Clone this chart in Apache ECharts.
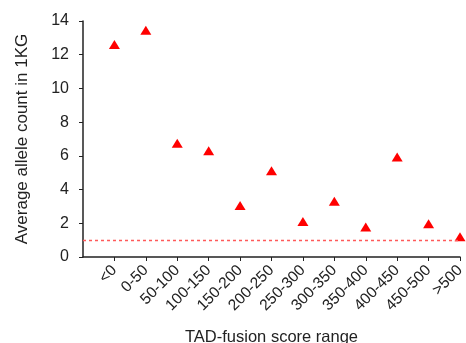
<!DOCTYPE html>
<html><head><meta charset="utf-8">
<script src="https://cdn.jsdelivr.net/npm/echarts@6/dist/echarts.min.js"></script>
<style>html,body{margin:0;padding:0;background:#fff}#c{width:466px;height:343px}</style>
</head><body><div id="c"></div>
<script>
const categories = ['<0','0-50','50-100','100-150','150-200','200-250','250-300','300-350','350-400','400-450','450-500','>500'];
const values = [12.6, 13.45, 6.75, 6.3, 3.05, 5.12, 2.1, 3.3, 1.78, 5.93, 1.97, 1.2];
const yTicks = [0, 2, 4, 6, 8, 10, 12, 14];
const refLine = 1;

const cats = [''].concat(categories);
const chart = echarts.init(document.getElementById('c'), null, {renderer:'canvas'});
const font = 'Liberation Sans, Arial, sans-serif';
chart.setOption({
  animation:false,
  grid:{left:83, top:21, right:6, bottom:86, containLabel:false, outerBoundsMode:'none'},
  xAxis:{
    type:'category', data:cats, boundaryGap:false,
    name:'TAD-fusion score range', nameLocation:'middle', nameGap:72,
    nameTextStyle:{fontFamily:font, fontSize:16.5, color:'#222'},
    axisLine:{lineStyle:{color:'#222', width:1.5}},
    axisTick:{length:4, lineStyle:{color:'#222'}, interval:function(i){return i>0;}},
    axisLabel:{rotate:45, fontFamily:font, fontSize:15.5, color:'#222', margin:11, interval:0},
    splitLine:{show:false}
  },
  yAxis:{
    type:'value', min:yTicks[0], max:yTicks[yTicks.length-1], interval:2,
    name:'Average allele count in 1KG', nameLocation:'middle', nameGap:52,
    nameTextStyle:{fontFamily:font, fontSize:17, color:'#222'},
    axisLine:{show:true, lineStyle:{color:'#222', width:1.5}},
    axisTick:{show:true, length:4, lineStyle:{color:'#222'}},
    axisLabel:{fontFamily:font, fontSize:16, color:'#222', margin:14},
    splitLine:{show:false}
  },
  series:[{
    type:'scatter', data:[null].concat(values), symbol:'triangle', symbolSize:[11,9],
    itemStyle:{color:'#ff0000', opacity:1},
    markLine:{silent:true, symbol:'none', label:{show:false},
      lineStyle:{color:'#ff5a5a', type:[3,3], width:1.3, opacity:1},
      emphasis:{disabled:true},
      data:[{yAxis:refLine}]}
  }]
});
</script></body></html>
